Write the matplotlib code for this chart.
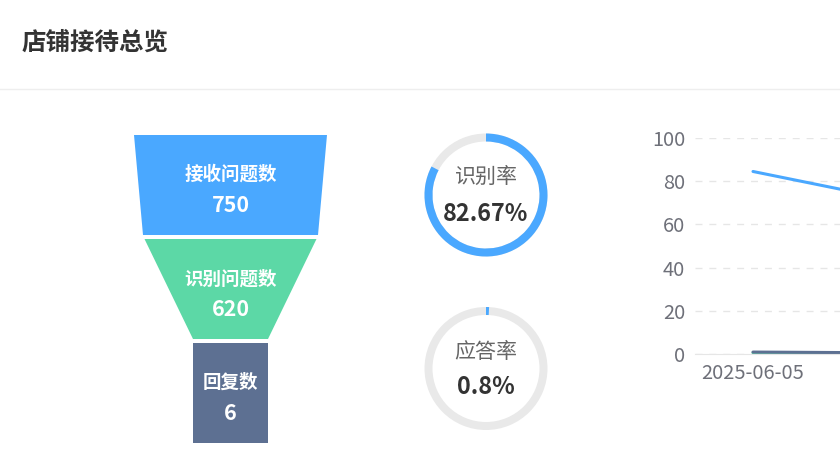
import matplotlib
matplotlib.use("Agg")
import matplotlib.pyplot as plt
from matplotlib.patches import Polygon, Wedge

plt.rcParams['font.family'] = ['Noto Sans CJK SC', 'DejaVu Sans']

# data
title = "店铺接待总览"
funnel_labels = ["接收问题数", "识别问题数", "回复数"]
funnel_values = [750, 620, 6]
rate_labels = ["识别率", "应答率"]
rate_values = [82.67, 0.8]
dates = ["2025-06-05", "2025-06-06"]
recog_rate = [84.5, 73.6]
answer_rate = [0.9, 0.6]
reply_rate = [0.6, 0.4]

BLUE = "#4aa8ff"
GREEN = "#5cd8a6"
SLATE = "#5d7092"

W, H = 840, 459
fig = plt.figure(figsize=(W / 100, H / 100), dpi=100)

# overlay in pixel coords for header, funnel and rings
ov = fig.add_axes([0, 0, 1, 1])
ov.set_xlim(0, W)
ov.set_ylim(H, 0)
ov.axis("off")

def pt(px):
    return px * 72 / 100

ov.text(22, 43, title, fontsize=pt(24.5), fontweight="bold", color="#333333",
        ha="left", va="center")
ov.plot([0, W], [89, 89], color="#eeeeee", lw=1)

# funnel: (top y, bottom y, top half width, bottom half width)
cx = 230.5
layers = [(135, 235, 96.5, 87.5), (239, 339, 86, 37.5), (343, 443, 37.5, 37.5)]
colors = [BLUE, GREEN, SLATE]
text_y = [(174, 205), (279, 309), (382, 414)]
for (y0, y1, hw0, hw1), c, lab, val, (ty, vy) in zip(layers, colors, funnel_labels,
                                                     funnel_values, text_y):
    ov.add_patch(Polygon([(cx - hw0, y0), (cx + hw0, y0), (cx + hw1, y1), (cx - hw1, y1)],
                         closed=True, facecolor=c, edgecolor="none"))
    ov.text(cx, ty, lab, fontsize=pt(18.5), fontweight="bold", color="white",
            ha="center", va="center")
    ov.text(cx, vy, str(val), fontsize=pt(21.5), fontweight="bold", color="white",
            ha="center", va="center")

# progress rings
rx = 486
ring_y = [195, 368.5]
r_out, thick = 61.5, 8
txt_pos = [(177, 214), (352, 387)]
for cy, lab, v, (ly, vy) in zip(ring_y, rate_labels, rate_values, txt_pos):
    ov.add_patch(Wedge((rx, cy), r_out, 0, 360, width=thick, facecolor="#e9e9e9",
                       edgecolor="none"))
    # y axis inverted: angles go clockwise on screen
    ov.add_patch(Wedge((rx, cy), r_out, -90, -90 + 360 * v / 100, width=thick,
                       facecolor=BLUE, edgecolor="none"))
    ov.text(rx, ly, lab, fontsize=pt(21), color="#666666", ha="center", va="center")
    ov.text(rx, vy, f"{v:g}%", fontsize=pt(23.5), fontweight="bold", color="#333333",
            ha="center", va="center")

# line chart (runs past the right edge of the figure)
x0, x1 = 695, 927
y_top, y_bot = 138, 354
ax = fig.add_axes([x0 / W, (H - y_bot) / H, (x1 - x0) / W, (y_bot - y_top) / H])
ax.set_facecolor("none")
xs = range(len(dates))
ax.plot(xs, reply_rate, color=GREEN, lw=2.2, solid_capstyle="round")
ax.plot(xs, answer_rate, color=SLATE, lw=2.2, solid_capstyle="round")
ax.plot(xs, recog_rate, color=BLUE, lw=2.2, solid_capstyle="round")
ax.set_xlim(-0.5, len(dates) - 0.5)
ax.set_ylim(0, 100)
ax.set_yticks([0, 20, 40, 60, 80, 100])
# only the first date label falls inside the visible area
ax.set_xticks([0])
ax.set_xticklabels(dates[:1])
for s in ["top", "right", "left"]:
    ax.spines[s].set_visible(False)
ax.spines["bottom"].set_color("#e6e6e6")
ax.grid(axis="y", color="#e6e6e6", ls=(0, (5, 5)), lw=1)
ax.set_axisbelow(True)
ax.tick_params(axis="both", length=0, labelsize=pt(20), colors="#6e7079")
ax.tick_params(axis="y", pad=pt(10))
ax.tick_params(axis="x", pad=pt(9))

fig.savefig("out.png", dpi=100)
